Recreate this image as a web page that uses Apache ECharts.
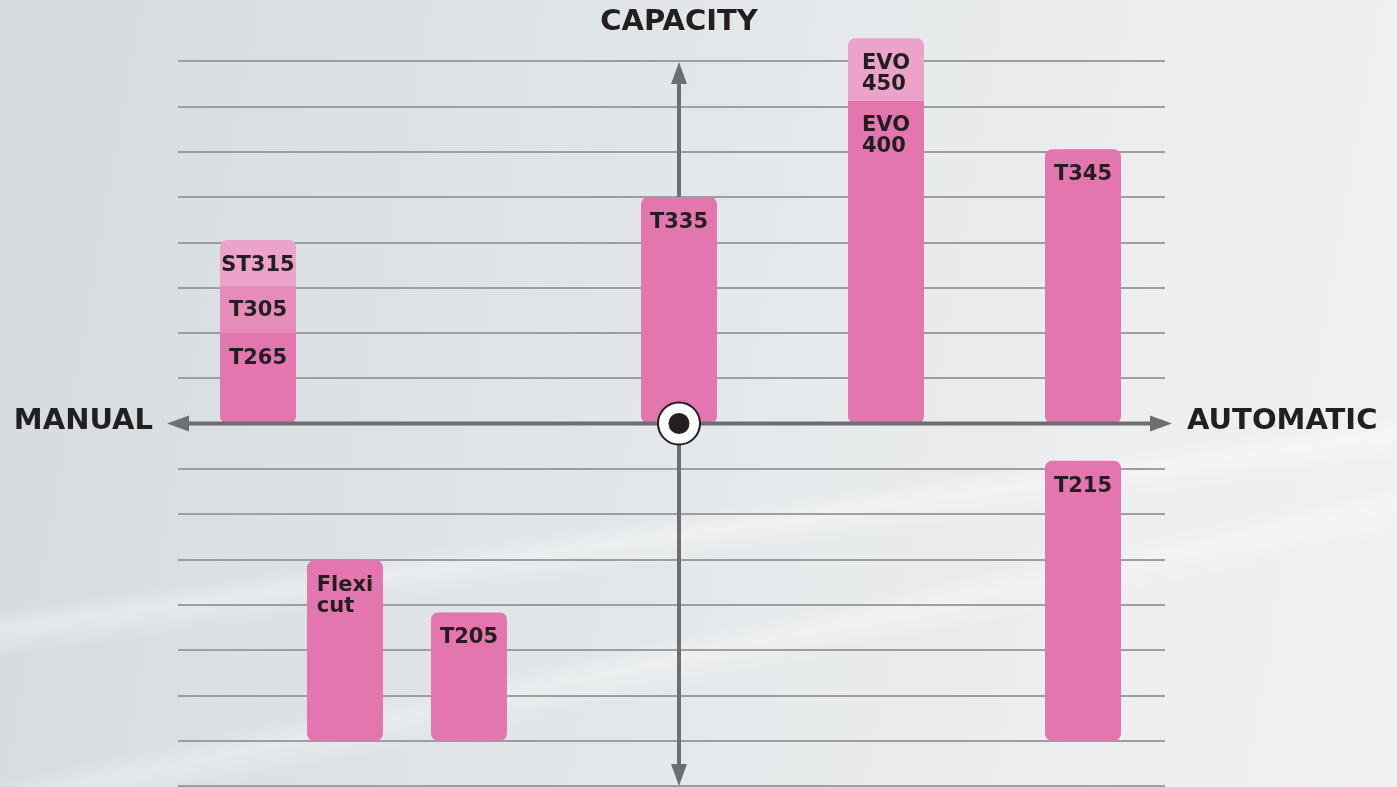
<!DOCTYPE html>
<html>
<head>
<meta charset="utf-8">
<script src="https://cdn.jsdelivr.net/npm/echarts@6/dist/echarts.min.js"></script>
<style>
html,body{margin:0;padding:0;width:1397px;height:787px;overflow:hidden;}
body{
  background:
    linear-gradient(172deg, rgba(255,255,255,0) 0%, rgba(255,255,255,0) 62%, rgba(255,255,255,0.35) 64%, rgba(255,255,255,0) 67%, rgba(255,255,255,0) 100%),
    linear-gradient(168deg, rgba(255,255,255,0) 0%, rgba(255,255,255,0) 72%, rgba(255,255,255,0.3) 74%, rgba(255,255,255,0) 77%, rgba(255,255,255,0) 100%),
    linear-gradient(100deg, #d4dade 0%, #dde2e5 30%, #e6e9eb 55%, #eceeef 80%, #f1f1f1 100%);
}
#chart{width:1397px;height:787px;}
</style>
</head>
<body>
<div id="chart"></div>
<script>
// ---- data ----
const barNames  = ['T265', 'T305', 'ST315', 'Flexi\ncut', 'T205', 'T335', 'EVO\n400', 'EVO\n450', 'T345', 'T215'];
const barX      = [-8.42, -8.42, -8.42, -6.68, -4.20, 0.00, 4.14, 4.14, 8.08, 8.08];
const barLow    = [0.00, 2.00, 3.05, -7.00, -7.00, 0.00, 0.00, 7.13, 0.00, -7.00];
const barHigh   = [2.00, 3.05, 4.05, -3.02, -4.17, 5.00, 7.13, 8.50, 6.05, -0.82];
const barShade  = [0, 1, 2, 0, 0, 0, 0, 2, 0, 0];
const xRange    = [-10.02, 9.72];
const yRange    = [-8, 8];
const yInterval = 1;
const axisTitles = ['CAPACITY', 'MANUAL', 'AUTOMATIC'];

// ---- styles ----
const shadeColors = ['#e376ae', '#e78bbb', '#eba3c9'];
const barWidthUnits = 1.52;
const labelFont = 'bold 21px "DejaVu Sans"';
const titleFont = 'bold 29px "DejaVu Sans"';
const textColor = '#231f20';
const axisColor = '#6d6e71';

const measureCtx = document.createElement('canvas').getContext('2d');
measureCtx.font = labelFont;
function blockWidth(t) {
  return Math.max.apply(null, t.split('\n').map(s => measureCtx.measureText(s).width));
}

const barData = barNames.map((n, i) => [barX[i], barLow[i], barHigh[i], barShade[i], i]);

function hasNeighbor(i, edgeVal, side) {
  for (let j = 0; j < barX.length; j++) {
    if (j === i || barX[j] !== barX[i]) continue;
    if (side === 'above' && Math.abs(barLow[j] - edgeVal) < 1e-6) return true;
    if (side === 'below' && Math.abs(barHigh[j] - edgeVal) < 1e-6) return true;
  }
  return false;
}

function renderBar(params, api) {
  const i = api.value(4);
  const x = api.value(0), lo = api.value(1), hi = api.value(2);
  const pLo = api.coord([x, lo]);
  const pHi = api.coord([x, hi]);
  const w = api.size([barWidthUnits, 0])[0];
  const top = Math.min(pLo[1], pHi[1]);
  const h = Math.abs(pLo[1] - pHi[1]);
  const rTop = hasNeighbor(i, hi, 'above') ? 0 : 7;
  const rBot = hasNeighbor(i, lo, 'below') ? 0 : 7;
  const name = barNames[i];
  const bw = blockWidth(name);
  return {
    type: 'group',
    children: [
      {
        type: 'rect',
        shape: { x: pLo[0] - w / 2, y: top, width: w, height: h, r: [rTop, rTop, rBot, rBot] },
        style: { fill: shadeColors[api.value(3)] }
      },
      {
        type: 'text',
        x: pLo[0] - bw / 2,
        y: top + 15,
        style: {
          text: name,
          font: labelFont,
          fill: textColor,
          align: 'left',
          verticalAlign: 'top',
          lineHeight: 21
        },
        z2: 10
      }
    ]
  };
}

const aL = 22, aW = 8;

function renderVertical(params, api) {
  const c = api.coord([0, 0]);
  const top = api.coord([0, yRange[1]])[1] + 1;
  const bottom = api.coord([0, yRange[0]])[1];
  const ls = { stroke: axisColor, lineWidth: 4 };
  const fs = { fill: axisColor };
  return {
    type: 'group',
    children: [
      { type: 'line', shape: { x1: c[0], y1: top + 10, x2: c[0], y2: bottom - 10 }, style: ls },
      { type: 'polygon', shape: { points: [[c[0], top], [c[0] - aW, top + aL], [c[0] + aW, top + aL]] }, style: fs },
      { type: 'polygon', shape: { points: [[c[0], bottom], [c[0] - aW, bottom - aL], [c[0] + aW, bottom - aL]] }, style: fs },
      { type: 'text', x: c[0], y: 22, style: { text: axisTitles[0], font: titleFont, fill: textColor, align: 'center', verticalAlign: 'middle' } }
    ]
  };
}

function renderHorizontal(params, api) {
  const c = api.coord([0, 0]);
  const left = api.coord([xRange[0], 0])[0] - 11;
  const right = api.coord([xRange[1], 0])[0] + 7;
  const ls = { stroke: axisColor, lineWidth: 4 };
  const fs = { fill: axisColor };
  return {
    type: 'group',
    children: [
      { type: 'line', shape: { x1: left + 10, y1: c[1], x2: right - 10, y2: c[1] }, style: ls },
      { type: 'polygon', shape: { points: [[left, c[1]], [left + aL, c[1] - aW], [left + aL, c[1] + aW]] }, style: fs },
      { type: 'polygon', shape: { points: [[right, c[1]], [right - aL, c[1] - aW], [right - aL, c[1] + aW]] }, style: fs },
      { type: 'circle', shape: { cx: c[0], cy: c[1], r: 21 }, style: { fill: '#ffffff', stroke: textColor, lineWidth: 2 } },
      { type: 'circle', shape: { cx: c[0], cy: c[1], r: 10.5 }, style: { fill: textColor } },
      { type: 'text', x: left - 14, y: c[1] - 2, style: { text: axisTitles[1], font: titleFont, fill: textColor, align: 'right', verticalAlign: 'middle' } },
      { type: 'text', x: right + 15, y: c[1] - 2, style: { text: axisTitles[2], font: titleFont, fill: textColor, align: 'left', verticalAlign: 'middle' } }
    ]
  };
}

const chart = echarts.init(document.getElementById('chart'), null, { renderer: 'canvas' });
chart.setOption({
  backgroundColor: 'transparent',
  animation: false,
  grid: { left: 178, right: 232, top: 61, bottom: 1, containLabel: false },
  xAxis: {
    type: 'value', min: xRange[0], max: xRange[1],
    show: false
  },
  yAxis: {
    type: 'value', min: yRange[0], max: yRange[1], interval: yInterval,
    axisLine: { show: false }, axisTick: { show: false }, axisLabel: { show: false },
    splitLine: { show: true, lineStyle: { color: '#9c9ea0', width: 2 } }
  },
  series: [
    { type: 'custom', renderItem: renderVertical, data: [[0, 0]], clip: false, z: 1, silent: true },
    { type: 'custom', renderItem: renderBar, data: barData, clip: false, z: 2 },
    { type: 'custom', renderItem: renderHorizontal, data: [[0, 0]], clip: false, z: 5, silent: true }
  ]
});
</script>
</body>
</html>
